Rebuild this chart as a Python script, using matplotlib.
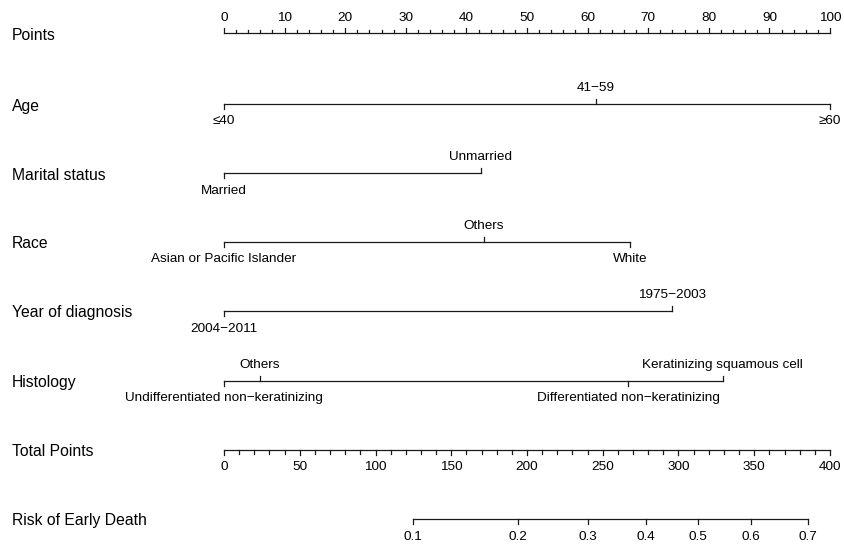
import matplotlib
matplotlib.use("Agg")
import matplotlib.pyplot as plt

plt.rcParams["font.family"] = ["Liberation Sans", "DejaVu Sans"]

# variable rows: name, level labels, points for each level, label side (1 = above, -1 = below)
row_names = ["Age", "Marital status", "Race", "Year of diagnosis", "Histology"]
age_levels = ["≤40", "41−59", "≥60"]
age_points = [0, 61.4, 100]
age_side = [-1, 1, -1]
marital_levels = ["Married", "Unmarried"]
marital_points = [0, 42.4]
marital_side = [-1, 1]
race_levels = ["Asian or Pacific Islander", "Others", "White"]
race_points = [0, 42.9, 67.0]
race_side = [-1, 1, -1]
year_levels = ["2004−2011", "1975−2003"]
year_points = [0, 73.9]
year_side = [-1, 1]
hist_levels = ["Undifferentiated non−keratinizing", "Others",
               "Differentiated non−keratinizing", "Keratinizing squamous cell"]
hist_points = [0, 5.9, 66.7, 82.3]
hist_side = [-1, 1, -1, 1]

points_major = list(range(0, 101, 10))
points_minor = list(range(0, 101, 2))
total_major = list(range(0, 401, 50))
total_minor = list(range(0, 401, 10))
risk_labels = ["0.1", "0.2", "0.3", "0.4", "0.5", "0.6", "0.7"]
risk_total = [125, 194.3, 240.3, 278.3, 312.9, 347.6, 385.5]

rows = [
    (age_levels, age_points, age_side),
    (marital_levels, marital_points, marital_side),
    (race_levels, race_points, race_side),
    (year_levels, year_points, year_side),
    (hist_levels, hist_points, hist_side),
]

W, H = 845, 544
fig = plt.figure(figsize=(W / 100, H / 100), dpi=100)
ax = fig.add_axes([0, 0, 1, 1])
ax.axis("off")
# x in points units (0 -> 224 px, 100 -> 830 px), y in pixels from the top
px_per_pt = (830 - 224) / 100
ax.set_xlim(-224 / px_per_pt, (W - 224) / px_per_pt)
ax.set_ylim(H, 0)

lc = "#1a1a1a"
lw = 0.9
label_fs = 11.3
tick_fs = 9.7
tick_len = 5
label_x = (12 - 224) / px_per_pt
above, below = 16, 17.5

row_y = [33, 104, 173, 242, 311, 381, 450, 519]


def row_label(y, text):
    ax.text(label_x, y + 2, text, fontsize=label_fs, va="center", ha="left")


# Points scale
y = row_y[0]
row_label(y, "Points")
ax.plot([0, 100], [y, y], color=lc, lw=lw)
for p in points_minor:
    ln = tick_len if p in points_major else 3
    ax.plot([p, p], [y, y - ln], color=lc, lw=lw)
for p in points_major:
    ax.text(p, y - 15, str(p), fontsize=tick_fs, ha="center", va="center")

# variable axes
for name, (levels, pts, side), y in zip(row_names, rows, row_y[1:6]):
    row_label(y, name)
    ax.plot([min(pts), max(pts)], [y, y], color=lc, lw=lw)
    for lab, p, s in zip(levels, pts, side):
        ax.plot([p, p], [y, y - s * tick_len], color=lc, lw=lw)
        off = above if s > 0 else -below
        ax.text(p, y - off, lab, fontsize=tick_fs, ha="center", va="center")

# Total Points scale (400 total points span the 100-point width)
y = row_y[6]
row_label(y, "Total Points")
ax.plot([0, 100], [y, y], color=lc, lw=lw)
for t in total_minor:
    ln = tick_len if t in total_major else 3.5
    ax.plot([t / 4, t / 4], [y, y + ln], color=lc, lw=lw)
for t in total_major:
    ax.text(t / 4, y + below, str(t), fontsize=tick_fs, ha="center", va="center")

# Risk scale
y = row_y[7]
row_label(y, "Risk of Early Death")
ax.plot([risk_total[0] / 4, risk_total[-1] / 4], [y, y], color=lc, lw=lw)
for lab, t in zip(risk_labels, risk_total):
    ax.plot([t / 4, t / 4], [y, y + tick_len], color=lc, lw=lw)
    ax.text(t / 4, y + below, lab, fontsize=tick_fs, ha="center", va="center")

fig.savefig("out.png", dpi=100)
